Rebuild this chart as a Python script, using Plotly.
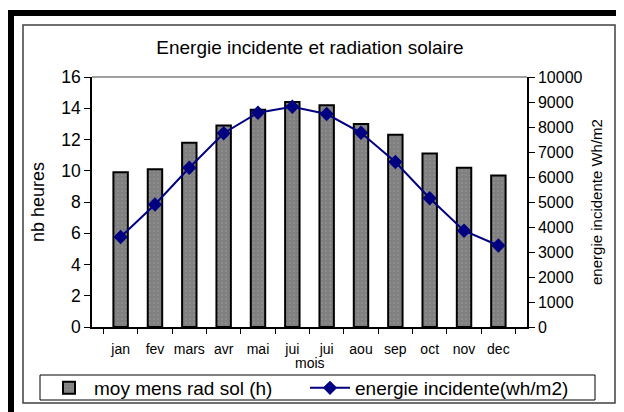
import plotly.graph_objects as go

mois = ["jan", "fev", "mars", "avr", "mai", "jui", "juil", "aou", "sep", "oct", "nov", "dec"]
etiquettes = ["jan", "fev", "mars", "avr", "mai", "jui", "jui", "aou", "sep", "oct", "nov", "dec"]
rad_sol = [9.9, 10.1, 11.8, 12.9, 13.9, 14.4, 14.2, 13.0, 12.3, 11.1, 10.2, 9.7]
energie = [3600, 4900, 6370, 7750, 8570, 8810, 8520, 7770, 6600, 5150, 3850, 3260]

# page body has an 8px margin, so the figure is shifted by that much
OFF = 8
W, H = 624 - OFF, 412 - OFF
L, R, T, B = 92 - OFF, 527 - OFF, 77 - OFF, 327 - OFF


def px(x, y):
    # reference pixel -> paper coords
    x, y = x - OFF, y - OFF
    return (x - L) / (R - L), (B - y) / (B - T)


def cx(x):
    return (x - OFF) / W


def cy(y):
    return 1 - (y - OFF) / H


fig = go.Figure()
fig.add_trace(go.Bar(
    x=mois, y=rad_sol, name="moy mens rad sol (h)", legend="legend",
    marker=dict(color="#808080", line=dict(color="black", width=2),
                pattern=dict(shape=".", fgcolor="#b0b0b0", size=4, solidity=0.15)),
))
fig.add_trace(go.Scatter(
    x=mois, y=energie, name="energie incidente(wh/m2)", yaxis="y2", legend="legend2",
    mode="lines+markers",
    line=dict(color="#000080", width=2),
    marker=dict(symbol="diamond", size=11, color="#000080"),
))

shapes = []
x0, y0 = px(23, 25)
x1, y1 = px(615, 403)
shapes.append(dict(type="rect", xref="paper", yref="paper", x0=x0, y0=y0, x1=x1, y1=y1,
                   line=dict(color="#404040", width=1.5), layer="below"))
a, b = px(8, 13)
c, d = px(640, 13)
shapes.append(dict(type="line", xref="paper", yref="paper", x0=a, y0=b, x1=c, y1=d,
                   line=dict(color="black", width=6)))
a, b = px(11, 10)
c, d = px(11, 430)
shapes.append(dict(type="line", xref="paper", yref="paper", x0=a, y0=b, x1=c, y1=d,
                   line=dict(color="black", width=6)))
shapes.append(dict(type="line", xref="paper", yref="paper", x0=0, y0=1, x1=1, y1=1,
                   line=dict(color="#808080", width=1.5)))
# legend box
x0, y0 = px(40, 375)
x1, y1 = px(595, 400)
shapes.append(dict(type="rect", xref="paper", yref="paper", x0=x0, y0=y0, x1=x1, y1=y1,
                   line=dict(color="black", width=1), fillcolor="white", layer="below"))

leg = dict(orientation="h", xref="container", yref="container", xanchor="left",
           yanchor="middle", y=cy(388), borderwidth=0, bgcolor="rgba(0,0,0,0)",
           font=dict(size=19), itemwidth=40)

fig.update_layout(
    width=W, height=H,
    margin=dict(l=L, r=W - R, t=T, b=H - B, autoexpand=False),
    paper_bgcolor="white", plot_bgcolor="rgba(0,0,0,0)",
    font=dict(family="Liberation Sans, Arial", color="black", size=16),
    bargap=0.58,
    showlegend=True,
    shapes=shapes,
    title=dict(text="Energie incidente et radiation solaire", x=cx(310), xanchor="center",
               y=cy(47), yanchor="middle", font=dict(size=19)),
    xaxis=dict(tickvals=mois, ticktext=etiquettes, tickfont=dict(size=14), tickangle=0,
               ticks="outside", tickson="boundaries", ticklen=5, tickcolor="black",
               showline=True, linecolor="black", linewidth=1.5, automargin=False,
               ticklabelstandoff=8, showgrid=False),
    yaxis=dict(range=[0, 16], dtick=2, ticks="outside", ticklen=6, tickcolor="black",
               showline=True, linecolor="black", linewidth=1.5, showgrid=False, zeroline=False,
               tickfont=dict(size=17.5), automargin=False,
               title=dict(text="nb heures", font=dict(size=18), standoff=12)),
    yaxis2=dict(range=[0, 10000], dtick=1000, overlaying="y", side="right", tickformat="d",
                ticks="outside", ticklen=6, tickcolor="black", automargin=False,
                showline=True, linecolor="black", linewidth=1.5, showgrid=False, zeroline=False,
                tickfont=dict(size=16),
                title=dict(text="energie incidente Wh/m2", font=dict(size=15), standoff=10)),
    legend=dict(leg, x=cx(44)),
    legend2=dict(leg, x=cx(305)),
    annotations=[dict(text="mois", xref="paper", yref="paper", x=0.5, y=px(0, 363)[1],
                      showarrow=False, font=dict(size=14), yanchor="middle")],
)

fig.write_html("out.html")
